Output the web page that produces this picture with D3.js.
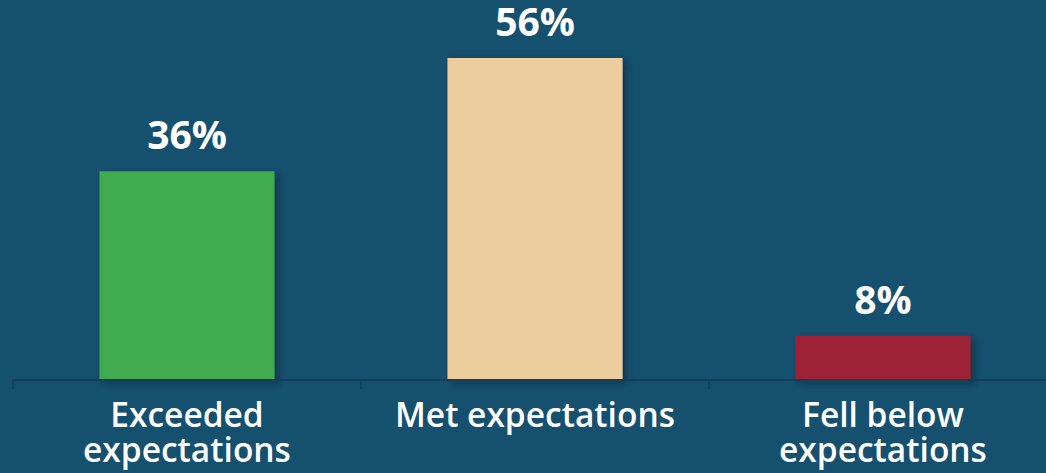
<!DOCTYPE html>
<html>
<head>
<meta charset="utf-8">
<script src="https://cdn.jsdelivr.net/npm/d3@7"></script>
<style>
  html, body { margin: 0; padding: 0; background: #15506f; }
  svg { display: block; }
</style>
</head>
<body>
<svg id="chart" width="1046" height="473"></svg>
<script>
const categories = [["Exceeded", "expectations"], ["Met expectations"], ["Fell below", "expectations"]];
const values = [36.3, 56.0, 7.7];
const valueLabels = ["36%", "56%", "8%"];
const colors = ["#3fab4f", "#eccd9e", "#9e2235"];

const W = 1046, H = 473;
const svg = d3.select("#chart");
svg.append("rect").attr("width", W).attr("height", H).attr("fill", "#15506f");

const defs = svg.append("defs");
const f = defs.append("filter").attr("id", "shadow").attr("x", "-10%").attr("y", "-10%").attr("width", "130%").attr("height", "130%");
f.append("feDropShadow").attr("dx", 4).attr("dy", 3).attr("stdDeviation", 3)
  .attr("flood-color", "#0a2535").attr("flood-opacity", 0.6);

const idx = d3.range(values.length);
const x = d3.scaleBand().domain(idx).range([13, 13 + 348 * 3]).paddingInner(0.497).paddingOuter(0.2485);
const xTicks = d3.scaleBand().domain(idx).range([13, 13 + 348 * 3]);
const y = d3.scaleLinear().domain([0, 60]).range([380, 35]);

// bars
svg.append("g").selectAll("rect").data(idx).join("rect")
  .attr("x", i => x(i))
  .attr("y", i => y(values[i]))
  .attr("width", x.bandwidth())
  .attr("height", i => y(0) - y(values[i]))
  .attr("fill", i => colors[i])
  .attr("filter", "url(#shadow)");

// axis
const axis = svg.append("g");
axis.append("line").attr("x1", 13).attr("x2", W).attr("y1", y(0)).attr("y2", y(0))
  .attr("stroke", "#123f56").attr("stroke-width", 2);
axis.selectAll("line.tick").data(idx).join("line").attr("class", "tick")
  .attr("x1", i => xTicks(i)).attr("x2", i => xTicks(i))
  .attr("y1", y(0)).attr("y2", y(0) + 9)
  .attr("stroke", "#123f56").attr("stroke-width", 1.5);

// value labels
svg.append("g").selectAll("text").data(idx).join("text")
  .attr("x", i => x(i) + x.bandwidth() / 2)
  .attr("y", i => y(values[i]) - 22)
  .attr("text-anchor", "middle")
  .attr("fill", "#ffffff")
  .attr("font-family", "'Open Sans', sans-serif")
  .attr("font-weight", 700)
  .attr("font-size", 39)
  .text(i => valueLabels[i]);

// category labels
const cl = svg.append("g").selectAll("text").data(idx).join("text")
  .attr("x", i => x(i) + x.bandwidth() / 2)
  .attr("y", 427)
  .attr("text-anchor", "middle")
  .attr("fill", "#ffffff")
  .attr("font-family", "'Open Sans', sans-serif")
  .attr("font-weight", 600)
  .attr("font-size", 33.5);
cl.selectAll("tspan").data(i => categories[i]).join("tspan")
  .attr("x", function() { return d3.select(this.parentNode).attr("x"); })
  .attr("dy", (d, j) => j === 0 ? 0 : 35)
  .text(d => d);
</script>
</body>
</html>
